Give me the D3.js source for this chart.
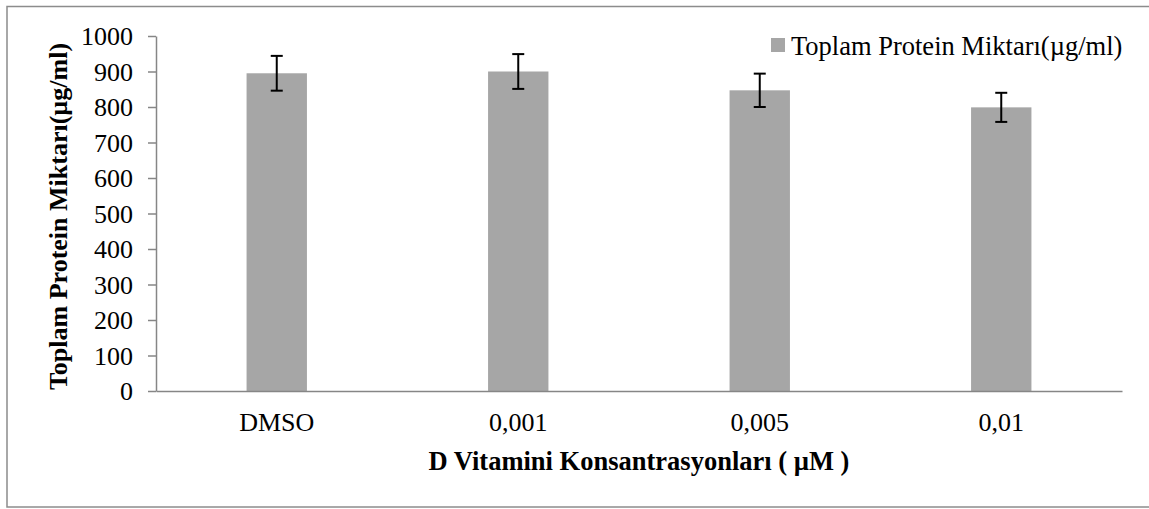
<!DOCTYPE html>
<html><head><meta charset="utf-8">
<script src="https://cdn.jsdelivr.net/npm/d3@7"></script>
<style>body{margin:0;background:#fff}svg{display:block}</style>
</head><body>
<script>
const categories = ["DMSO", "0,001", "0,005", "0,01"];
const values = [895, 900, 847, 799];
const errors = [49, 49, 47, 41];
const yTicks = [0,100,200,300,400,500,600,700,800,900,1000];
const seriesName = "Toplam Protein Miktarı(µg/ml)";
const xTitle = "D Vitamini Konsantrasyonları ( µM )";
const yTitle = "Toplam  Protein Miktarı(µg/ml)";

const W = 1149, H = 509;
const svg = d3.select("body").append("svg").attr("width", W).attr("height", H);
const font = "'Liberation Serif','Times New Roman',serif";
const axisColor = "#868686";

svg.append("rect").attr("x", 7).attr("y", 6.5).attr("width", 1160).attr("height", 500.5)
  .attr("fill", "none").attr("stroke", "#8c8c8c").attr("stroke-width", 1.5);

const m = {left: 156, right: 1122, top: 36, bottom: 391};
const x = d3.scaleBand().domain(categories).range([m.left, m.right]).paddingInner(0.75).paddingOuter(0.375);
const y = d3.scaleLinear().domain([0, 1000]).range([m.bottom, m.top]);

// bars
svg.selectAll("rect.bar").data(values).join("rect").attr("class", "bar")
  .attr("x", (d, i) => x(categories[i])).attr("width", x.bandwidth())
  .attr("y", d => y(d)).attr("height", d => y(0) - y(d)).attr("fill", "#a6a6a6");

// error bars
const eg = svg.append("g").attr("stroke", "#000").attr("stroke-width", 2);
values.forEach((v, i) => {
  const cx = x(categories[i]) + x.bandwidth() / 2;
  eg.append("line").attr("x1", cx).attr("x2", cx).attr("y1", y(v + errors[i])).attr("y2", y(v - errors[i]));
  eg.append("line").attr("x1", cx - 6).attr("x2", cx + 6).attr("y1", y(v + errors[i])).attr("y2", y(v + errors[i]));
  eg.append("line").attr("x1", cx - 6).attr("x2", cx + 6).attr("y1", y(v - errors[i])).attr("y2", y(v - errors[i]));
});

// y axis
const ya = svg.append("g").attr("transform", `translate(${m.left},0)`)
  .call(d3.axisLeft(y).tickValues(yTicks).tickFormat(d3.format("d")).tickSize(8).tickPadding(15).tickSizeOuter(0));
ya.select(".domain").attr("stroke", axisColor).attr("stroke-width", 1.5);
ya.selectAll(".tick line").attr("stroke", axisColor).attr("stroke-width", 1.5);
ya.selectAll("text").attr("font-family", font).attr("font-size", 26).attr("fill", "#000").attr("dy", "0.34em");

// x axis
const xa = svg.append("g").attr("transform", `translate(0,${m.bottom})`)
  .call(d3.axisBottom(x).tickSize(0));
xa.select(".domain").attr("stroke", axisColor).attr("stroke-width", 1.5);
xa.selectAll("text").attr("font-family", font).attr("font-size", 26).attr("fill", "#000")
  .attr("y", 40).attr("dy", 0);

// titles
svg.append("text").attr("x", (m.left + m.right) / 2).attr("y", 470).attr("text-anchor", "middle")
  .attr("font-family", font).attr("font-size", 26.5).attr("font-weight", "bold").text(xTitle);
svg.append("text").attr("transform", `translate(67,${(m.top + m.bottom) / 2 + 3}) rotate(-90)`)
  .attr("text-anchor", "middle").attr("font-family", font).attr("font-size", 26)
  .attr("font-weight", "bold").text(yTitle);

// legend
svg.append("rect").attr("x", 771).attr("y", 38).attr("width", 14).attr("height", 14).attr("fill", "#a6a6a6");
svg.append("text").attr("x", 791).attr("y", 55).attr("font-family", font).attr("font-size", 26.5)
  .attr("fill", "#000").text(seriesName);
</script>
</body></html>
